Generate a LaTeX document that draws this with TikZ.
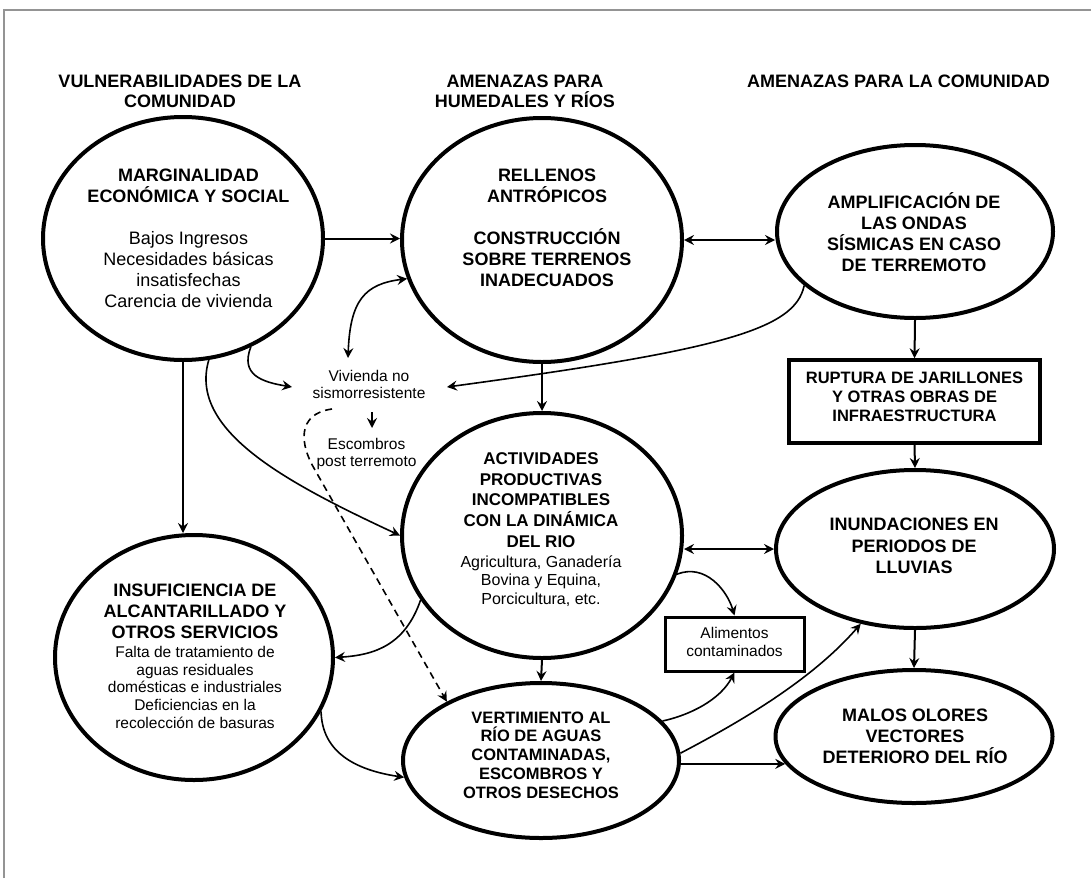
\documentclass[tikz,border=0pt]{standalone}
\usepackage{fontspec}
\setmainfont{Liberation Sans}
\usetikzlibrary{shapes.geometric,arrows.meta}
\newcommand{\fsz}[2]{\fontsize{#1}{#2}\selectfont}
\begin{document}
\begin{tikzpicture}[x=1pt,y=-1pt,
  >={Stealth[length=10pt,width=10pt,inset=3.5pt]},
  ell/.style={draw, ellipse, line width=4pt, inner sep=0pt},
  bx/.style={draw, rectangle, inner sep=0pt},
  tx/.style={anchor=base, inner sep=0pt, outer sep=0pt},
  ar/.style={->, line width=2pt},
  dar/.style={<->, line width=2pt},
  cur/.style={->, line width=1.6pt},
  dcur/.style={<->, line width=1.6pt},
  dsh/.style={->, line width=1.6pt, dash pattern=on 7pt off 5pt}]
\useasboundingbox (0,0) rectangle (1091,878);
\fill[white] (0,0) rectangle (1091,878);
\draw[black!42, line width=2pt] (4,878) -- (4,10) -- (1091,10);

% shapes
\node[ell, minimum width=280pt, minimum height=243pt] (marg) at (183,238.5) {};
\node[ell, minimum width=280pt, minimum height=244pt] (rell) at (542,240) {};
\node[ell, minimum width=276pt, minimum height=173pt] (ampl) at (915,231.5) {};
\node[bx, line width=3.5pt, minimum width=251pt, minimum height=83pt] (rupt) at (914.5,401.5) {};
\node[ell, minimum width=280pt, minimum height=245pt] (act) at (542,535.5) {};
\node[ell, minimum width=278pt, minimum height=245pt] (insuf) at (194,657.5) {};
\node[ell, minimum width=278pt, minimum height=158pt] (inund) at (915,549) {};
\node[ell, minimum width=277pt, minimum height=133pt] (malos) at (914,736.5) {};
\node[ell, minimum width=276pt, minimum height=155pt] (vert) at (541,760.5) {};
\node[bx, line width=3pt, minimum width=139pt, minimum height=54pt] (alim) at (734.5,644) {};

% free ends
\coordinate (vivtl) at (348,358);
\coordinate (vivl) at (292,387);
\coordinate (vivr) at (447,387);
\coordinate (va) at (372,412);
\coordinate (vb) at (372,428);
\coordinate (dstart) at (332,409);

% connectors
\draw[ar] (marg.east) -- (marg.east -| rell.west);
\draw[dar] (rell.east) -- (rell.east -| ampl.west);
\draw[dcur] (rell.196) .. controls (365,284) and (350,300) .. (vivtl);
\draw[cur] (marg.-58.7) .. controls (240,375) and (262,382) .. (vivl);
\draw[cur] (ampl.206.4) .. controls (795,330) and (720,350) .. (vivr);
\draw[ar] (rell.south) -- (act.north);
\draw[ar] (marg.south) -- (marg.south |- insuf.north);
\draw[cur] (marg.-78.8) .. controls (188,430) and (285,482) .. (act.west);
\draw[dar] (act.east |- inund.west) -- (inund.west);
\draw[cur] (act.-16.7) .. controls (705,563) and (727,590) .. (alim.north);
\draw[cur] (act.208.6) .. controls (405,645) and (375,655) .. (insuf.east);
\draw[dsh] (dstart) .. controls (296,414) and (300,445) .. (315,470) -- (vert.148);
\draw[cur] (insuf.-23.6) .. controls (322,752) and (355,770) .. (vert.187.2);
\draw[cur] (vert.18.1) .. controls (690,715) and (720,700) .. (alim.south);
\draw[cur] (vert.3.5) .. controls (740,722) and (812,680) .. (inund.234.2);
\draw[ar] (vert.east |- malos.192) -- (malos.192);
\draw[ar] (ampl.south) -- (rupt.north);
\draw[ar] (rupt.south) -- (inund.north);
\draw[ar] (inund.south) -- (malos.north);
\draw[ar] (act.south) -- (vert.north);
\draw[ar] (va) -- (vb);

% texts
\node[tx] (th1) at (180,87.3) {\parbox[t]{330pt}{\centering\fsz{18}{20}\bfseries VULNERABILIDADES DE LA\\COMUNIDAD}};
\node[tx] (th2) at (525,87.6) {\parbox[t]{300pt}{\centering\fsz{18}{20}\bfseries AMENAZAS PARA\\HUMEDALES Y RÍOS}};
\node[tx] (th3) at (898.5,87.6) {\parbox[t]{340pt}{\centering\fsz{18}{20}\bfseries AMENAZAS PARA LA COMUNIDAD}};

\node[tx] (tmarg) at (188.5,181.4) {\parbox[t]{270pt}{\centering\fsz{18}{21}\bfseries MARGINALIDAD\\ECONÓMICA Y SOCIAL\\[21pt]\mdseries Bajos Ingresos\\Necesidades básicas\\insatisfechas\\Carencia de vivienda}};
\node[tx] (trell) at (547,181.4) {\parbox[t]{270pt}{\centering\fsz{18}{21}\bfseries RELLENOS\\ANTRÓPICOS\\[21pt]CONSTRUCCIÓN\\SOBRE TERRENOS\\INADECUADOS}};
\node[tx] (tampl) at (914,208.1) {\parbox[t]{270pt}{\centering\fsz{18}{21.1}\bfseries AMPLIFICACIÓN DE\\LAS ONDAS\\SÍSMICAS EN CASO\\DE TERREMOTO}};
\node[tx] (trupt) at (914.5,383.4) {\parbox[t]{250pt}{\centering\fsz{16.5}{19}\bfseries RUPTURA DE JARILLONES\\Y OTRAS OBRAS DE\\INFRAESTRUCTURA}};
\node[tx] (tact) at (541,464.4) {\parbox[t]{270pt}{\centering\fsz{17}{20.75}\bfseries ACTIVIDADES\\PRODUCTIVAS\\INCOMPATIBLES\\CON LA DINÁMICA\\DEL RIO\par\vspace{1.5pt}\fsz{16}{18.5}\mdseries Agricultura, Ganadería\\Bovina y Equina,\\Porcicultura, etc.}};
\node[tx] (tinsuf) at (195,596.4) {\parbox[t]{270pt}{\centering\fsz{18}{20.8}\bfseries INSUFICIENCIA DE\\ALCANTARILLADO Y\\OTROS SERVICIOS\par\vspace{1.4pt}\fsz{15.5}{17.8}\mdseries Falta de tratamiento de\\aguas residuales\\domésticas e industriales\\Deficiencias en la\\recolección de basuras}};
\node[tx] (tinund) at (914.2,530.6) {\parbox[t]{270pt}{\centering\fsz{18}{21.6}\bfseries INUNDACIONES EN\\PERIODOS DE\\LLUVIAS}};
\node[tx] (tmalos) at (915,721.4) {\parbox[t]{270pt}{\centering\fsz{18}{21}\bfseries MALOS OLORES\\VECTORES\\DETERIORO DEL RÍO}};
\node[tx] (tvert) at (541,723.1) {\parbox[t]{270pt}{\centering\fsz{16.5}{18.75}\bfseries VERTIMIENTO AL\\RÍO DE AGUAS\\CONTAMINADAS,\\ESCOMBROS Y\\OTROS DESECHOS}};
\node[tx] (talim) at (734.5,638.7) {\parbox[t]{135pt}{\centering\fsz{15.5}{17.8}Alimentos\\contaminados}};
\node[tx] (tviv) at (369,381.3) {\parbox[t]{150pt}{\centering\fsz{15.5}{17.5}Vivienda no\\sismorresistente}};
\node[tx] (tesc) at (366.5,449.7) {\parbox[t]{150pt}{\centering\fsz{15.5}{16.5}Escombros\\post terremoto}};
\end{tikzpicture}
\end{document}
